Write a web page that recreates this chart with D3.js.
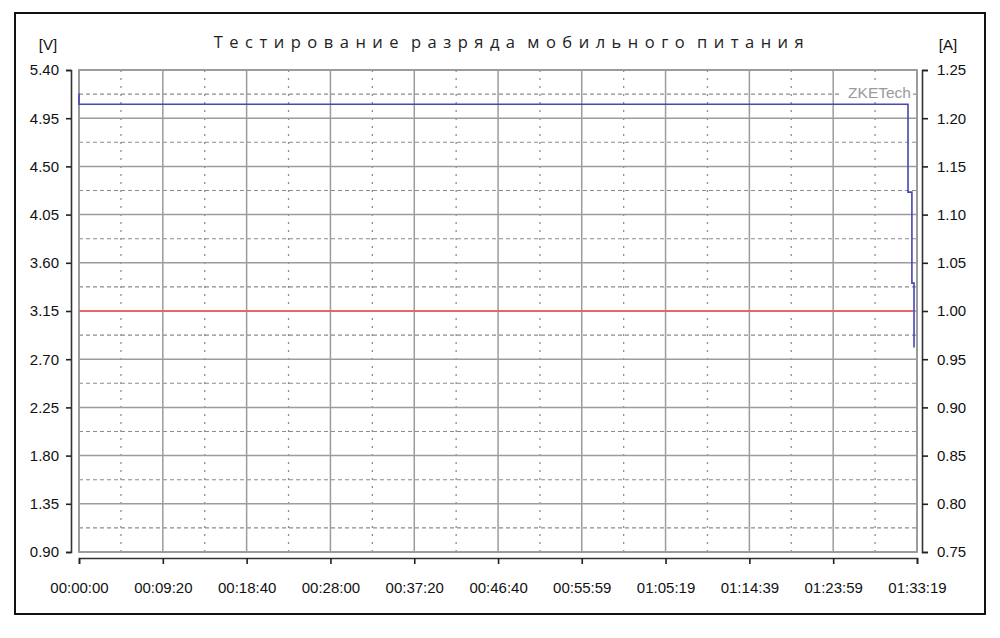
<!DOCTYPE html>
<html>
<head>
<meta charset="utf-8">
<script src="https://cdn.jsdelivr.net/npm/d3@7"></script>
<style>
  body { margin: 0; background: #fff; }
  .tick text { font-family: "Liberation Sans", Arial, sans-serif; font-size: 15px; fill: #111; }
</style>
</head>
<body>
<div id="main"></div>
<script>
// time in seconds from start
const voltTime = [0, 0, 5539, 5539, 5565, 5565, 5579, 5579];
const voltValues = [5.18, 5.08, 5.08, 4.26, 4.26, 3.41, 3.41, 2.81];
const currTime = [0, 5572];
const currValues = [1.00, 1.00];

const timeTicks = [0, 560, 1120, 1680, 2240, 2800, 3359, 3919, 4479, 5039, 5599];
const timeLabels = ['00:00:00', '00:09:20', '00:18:40', '00:28:00', '00:37:20', '00:46:40',
  '00:55:59', '01:05:19', '01:14:39', '01:23:59', '01:33:19'];
const voltTicks = [0.90, 1.35, 1.80, 2.25, 2.70, 3.15, 3.60, 4.05, 4.50, 4.95, 5.40];
const ampTicks = [0.75, 0.80, 0.85, 0.90, 0.95, 1.00, 1.05, 1.10, 1.15, 1.20, 1.25];

const title = 'Тестирование разряда мобильного питания';

function main() {
  const width = 1000;
  const height = 638;
  const left = 79;
  const right = 917;
  const top = 70;
  const bottom = 552;

  const x = d3.scaleLinear().domain([0, 5599]).range([left, right]);
  const yV = d3.scaleLinear().domain([0.90, 5.40]).range([bottom, top]);
  const yA = d3.scaleLinear().domain([0.75, 1.25]).range([bottom, top]);

  const svg = d3.select('#main')
    .append('svg')
    .attr('width', width)
    .attr('height', height);

  // outer frame
  svg.append('rect')
    .attr('x', 15).attr('y', 13)
    .attr('width', 970).attr('height', 601)
    .attr('fill', '#fff')
    .attr('stroke', '#111')
    .attr('stroke-width', 2);

  const grid = svg.append('g');
  const midV = d3.pairs(voltTicks).map(p => (p[0] + p[1]) / 2);
  const midT = d3.pairs(timeTicks).map(p => (p[0] + p[1]) / 2);

  grid.selectAll('.hmid')
    .data(midV)
    .enter()
    .append('line')
    .attr('x1', left).attr('x2', right)
    .attr('y1', d => yV(d)).attr('y2', d => yV(d))
    .attr('stroke', '#8c8c8c')
    .attr('stroke-width', 1.1)
    .attr('stroke-dasharray', '4,3');

  grid.selectAll('.vmid')
    .data(midT)
    .enter()
    .append('line')
    .attr('x1', d => x(d)).attr('x2', d => x(d))
    .attr('y1', top).attr('y2', bottom)
    .attr('stroke', '#8c8c8c')
    .attr('stroke-width', 1.3)
    .attr('stroke-dasharray', '2,6');

  grid.selectAll('.hmain')
    .data(voltTicks)
    .enter()
    .append('line')
    .attr('x1', left).attr('x2', right)
    .attr('y1', d => yV(d)).attr('y2', d => yV(d))
    .attr('stroke', '#9c9c9c')
    .attr('stroke-width', 1.5);

  grid.selectAll('.vmain')
    .data(timeTicks)
    .enter()
    .append('line')
    .attr('x1', d => x(d)).attr('x2', d => x(d))
    .attr('y1', top).attr('y2', bottom)
    .attr('stroke', '#9c9c9c')
    .attr('stroke-width', 1.5);

  svg.append('rect')
    .attr('x', left).attr('y', top)
    .attr('width', right - left).attr('height', bottom - top)
    .attr('fill', 'none')
    .attr('stroke', '#999')
    .attr('stroke-width', 1.8);

  // watermark
  svg.append('rect')
    .attr('x', 841).attr('y', 85)
    .attr('width', 72).attr('height', 16)
    .attr('fill', '#fff');
  svg.append('text')
    .attr('x', 911)
    .attr('y', 98)
    .style('font-family', '"Liberation Sans", Arial, sans-serif')
    .style('font-size', '15.5px')
    .style('fill', '#9a9a9a')
    .style('text-anchor', 'end')
    .text('ZKETech');

  // series
  const current = d3.line()
    .x((d, i) => x(currTime[i]))
    .y(d => yA(d));
  svg.append('path')
    .attr('d', current(currValues))
    .attr('fill', 'none')
    .attr('stroke', '#e5676b')
    .attr('stroke-width', 1.8);

  const voltage = d3.line()
    .x((d, i) => x(voltTime[i]))
    .y(d => yV(d));
  svg.append('path')
    .attr('d', voltage(voltValues))
    .attr('fill', 'none')
    .attr('stroke', '#4646b4')
    .attr('stroke-width', 1.6);

  // axes
  const xAxis = d3.axisBottom(x)
    .tickValues(timeTicks)
    .tickFormat((d, i) => timeLabels[i])
    .tickSize(6);
  const gx = svg.append('g')
    .attr('transform', 'translate(0, 558)')
    .call(xAxis);
  gx.selectAll('text').attr('y', 24);

  const gl = svg.append('g')
    .attr('transform', 'translate(71, 0)')
    .call(d3.axisLeft(yV).tickValues(voltTicks).tickFormat(d3.format('.2f')).tickSize(5).tickPadding(7));

  const gr = svg.append('g')
    .attr('transform', 'translate(922, 0)')
    .call(d3.axisRight(yA).tickValues(ampTicks).tickFormat(d3.format('.2f')).tickSize(6).tickPadding(9));

  [gx, gl, gr].forEach(g => {
    g.select('.domain').attr('stroke', '#333').attr('stroke-width', 1.6);
    g.selectAll('.tick line').attr('stroke', '#222').attr('stroke-width', 1.6);
  });

  // labels
  svg.append('text')
    .attr('x', 512)
    .attr('y', 48)
    .style('font-family', '"Open Sans", sans-serif')
    .style('font-size', '16.5px')
    .style('letter-spacing', '6.5px')
    .style('word-spacing', '-5px')
    .style('fill', '#222')
    .style('text-anchor', 'middle')
    .text(title);

  svg.append('text')
    .attr('x', 48)
    .attr('y', 50)
    .style('font-family', '"Liberation Sans", Arial, sans-serif')
    .style('font-size', '15px')
    .style('fill', '#111')
    .style('text-anchor', 'middle')
    .text('[V]');

  svg.append('text')
    .attr('x', 948)
    .attr('y', 50)
    .style('font-family', '"Liberation Sans", Arial, sans-serif')
    .style('font-size', '15px')
    .style('fill', '#111')
    .style('text-anchor', 'middle')
    .text('[A]');
}

document.addEventListener('DOMContentLoaded', main);
</script>
</body>
</html>
